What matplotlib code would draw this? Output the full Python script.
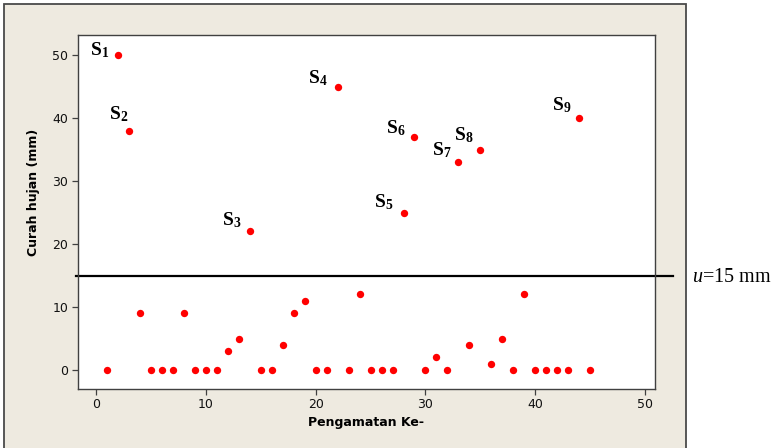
import matplotlib
matplotlib.use("Agg")
import matplotlib.pyplot as plt
from matplotlib.patches import Rectangle

# Rainfall per observation
observation = list(range(1, 46))
rainfall_mm = [0, 50, 38, 9, 0, 0, 0, 9, 0, 0,
               0, 3, 5, 22, 0, 0, 4, 9, 11, 0,
               0, 45, 0, 12, 0, 0, 0, 25, 37, 0,
               2, 0, 33, 4, 35, 1, 5, 0, 12, 0,
               0, 0, 0, 40, 0]

threshold_mm = 15

# Observations above the threshold and their labels
peak_obs = [2, 3, 14, 22, 28, 29, 33, 35, 44]
peak_names = ["1", "2", "3", "4", "5", "6", "7", "8", "9"]

x_ticks = [0, 10, 20, 30, 40, 50]
y_ticks = [0, 10, 20, 30, 40, 50]

# label offsets in pixels from each point (x, y)
label_offsets = [(-18, 5), (-10, 17), (-18, 11), (-20, 8), (-20, 10),
                 (-19, 9), (-17, 12), (-17, 14), (-18, 13)]

plt.rcParams["mathtext.fontset"] = "custom"
plt.rcParams["mathtext.rm"] = "Liberation Serif"
plt.rcParams["mathtext.it"] = "Liberation Serif:italic"
plt.rcParams["mathtext.bf"] = "Liberation Serif:bold"

fig = plt.figure(figsize=(7.8, 4.48), dpi=100)
fig.patch.set_facecolor("white")

# beige panel behind the plot
panel = Rectangle((4 / 780, -0.05), (686 - 4) / 780, 1 - 4 / 448 + 0.05,
                  transform=fig.transFigure, facecolor="#EEEAE0",
                  edgecolor="#4a4a4a", linewidth=1.3, zorder=-5)
fig.patches.append(panel)

ax = fig.add_axes([78 / 780, 1 - 388.7 / 448, (655 - 78) / 780, (388.7 - 35) / 448])
ax.set_zorder(1)
ax.set_facecolor("white")

ax.plot(observation, rainfall_mm, linestyle="none", marker="o",
        markersize=5.3, color="#FF0000", markeredgewidth=0, zorder=3)

ax.axhline(threshold_mm, xmin=-0.003, xmax=(673 - 78) / (655 - 78),
           color="black", linewidth=1.6, clip_on=False, zorder=2)

ax.set_xlim(-1.64, 50.9)
ax.set_ylim(-2.97, 53.2)
ax.set_xticks(x_ticks)
ax.set_yticks(y_ticks)

for side in ["left", "bottom", "top", "right"]:
    ax.spines[side].set_color("#404040")
    ax.spines[side].set_linewidth(1.0)

ax.tick_params(axis="both", direction="out", length=4.5, width=0.9,
               color="#404040", labelsize=9, labelcolor="#111111", pad=2.5)

ax.set_xlabel("Pengamatan Ke-", fontsize=9, fontweight="bold", labelpad=3)
ax.set_ylabel("Curah hujan (mm)", fontsize=9, fontweight="bold")
ax.yaxis.set_label_coords(-0.066, 0.556)

for obs, name, (dx, dy) in zip(peak_obs, peak_names, label_offsets):
    val = rainfall_mm[observation.index(obs)]
    ax.annotate(r"$\mathbf{S}_{\mathbf{" + name + "}}$", xy=(obs, val),
                xytext=(dx, dy), textcoords="offset pixels",
                ha="center", va="center", fontsize=14, zorder=4)

fig.text(691.7 / 780, 1 - 277.3 / 448, r"$u$=15 mm",
         family="Liberation Serif", fontsize=14.5, ha="left", va="center")

fig.savefig("out.png", dpi=100)
